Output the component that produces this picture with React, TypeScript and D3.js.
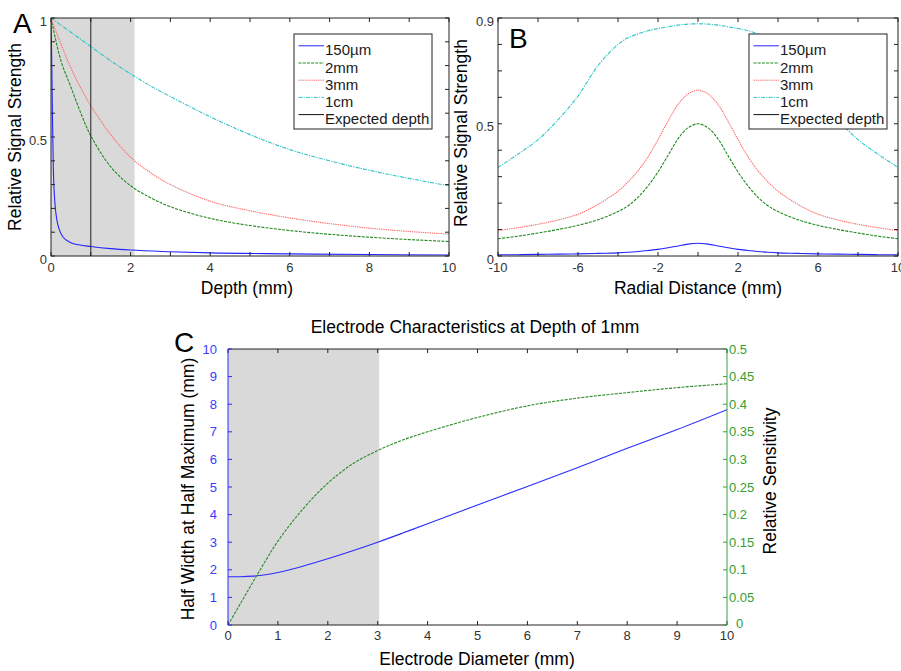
import * as d3 from "d3";

const FONT = "'Liberation Sans', Arial, Helvetica, sans-serif";

// ---- panel A: relative signal vs depth ----
const depthFine = [0, 0.01, 0.02, 0.035, 0.06, 0.1, 0.15, 0.2, 0.3, 0.5, 0.7, 1, 1.5, 2, 3, 4, 6, 8, 10];
const depth150um = [1, 0.9, 0.8, 0.6, 0.36, 0.22, 0.15, 0.115, 0.08, 0.056, 0.047, 0.04, 0.031, 0.025, 0.018, 0.013, 0.009, 0.006, 0.004];
const depthSteps = [0, 0.25, 0.5, 0.75, 1, 1.5, 2, 2.5, 3, 4, 5, 6, 7, 8, 9, 10];
const depth2mm = [1, 0.82, 0.71, 0.6, 0.505, 0.375, 0.295, 0.245, 0.207, 0.158, 0.128, 0.107, 0.091, 0.079, 0.069, 0.061];
const depth3mm = [1, 0.89, 0.79, 0.705, 0.632, 0.51, 0.415, 0.35, 0.3, 0.23, 0.19, 0.16, 0.136, 0.117, 0.103, 0.092];
const depth1cm = [1, 0.97, 0.94, 0.91, 0.88, 0.82, 0.765, 0.715, 0.67, 0.585, 0.51, 0.447, 0.4, 0.36, 0.326, 0.295];
const expectedDepth = 1;
const shadeDepth = 2.1;
const depthLabels = [0, 2, 4, 6, 8, 10];
const signalLabelsA = [0, 0.5, 1];

// ---- panel B: relative signal vs radial distance ----
const radial = [-10, -9, -8, -7, -6, -5, -4, -3.5, -3, -2.5, -2, -1.5, -1, -0.5, 0, 0.5, 1, 1.5, 2, 2.5, 3, 3.5, 4, 5, 6, 7, 8, 9, 10];
const radial150um = [0.005, 0.005, 0.006, 0.007, 0.008, 0.01, 0.012, 0.014, 0.017, 0.021, 0.025, 0.031, 0.038, 0.045, 0.048, 0.045, 0.038, 0.031, 0.025, 0.021, 0.017, 0.014, 0.012, 0.01, 0.008, 0.007, 0.006, 0.005, 0.005];
const radial2mm = [0.065, 0.075, 0.087, 0.1, 0.116, 0.137, 0.168, 0.19, 0.222, 0.265, 0.318, 0.38, 0.443, 0.485, 0.5, 0.485, 0.443, 0.38, 0.318, 0.265, 0.222, 0.19, 0.168, 0.137, 0.116, 0.1, 0.087, 0.075, 0.065];
const radial3mm = [0.096, 0.107, 0.12, 0.136, 0.158, 0.195, 0.245, 0.28, 0.322, 0.375, 0.44, 0.51, 0.573, 0.613, 0.627, 0.613, 0.573, 0.51, 0.44, 0.375, 0.322, 0.28, 0.245, 0.195, 0.158, 0.136, 0.12, 0.107, 0.096];
const radial1cm = [0.335, 0.385, 0.44, 0.515, 0.605, 0.72, 0.8, 0.825, 0.84, 0.852, 0.86, 0.867, 0.873, 0.877, 0.878, 0.877, 0.873, 0.867, 0.86, 0.852, 0.84, 0.825, 0.8, 0.72, 0.605, 0.515, 0.44, 0.385, 0.335];
const radialLabels = [-10, -6, -2, 2, 6, 10];
const signalLabelsB = [0, 0.5, 0.9];

// ---- panel C: electrode characteristics ----
const diameter = [0, 0.25, 0.5, 0.75, 1, 1.5, 2, 2.5, 3, 3.5, 4, 5, 6, 7, 8, 9, 10];
const hwhm = [1.75, 1.75, 1.77, 1.82, 1.9, 2.13, 2.4, 2.69, 3.0, 3.33, 3.67, 4.35, 5.02, 5.7, 6.4, 7.08, 7.8];
const sensitivity = [0, 0.039, 0.078, 0.116, 0.152, 0.21, 0.257, 0.292, 0.316, 0.335, 0.35, 0.376, 0.397, 0.411, 0.421, 0.43, 0.437];
const shadeDiameter = 3.03;

const legendNames = ["150\u00b5m", "2mm", "3mm", "1cm", "Expected depth"];
const styles = [
  { color: "#2424ff", dash: "" },
  { color: "#1f8a1f", dash: "3,1.2" },
  { color: "#ff7070", dash: "1.4,0.8" },
  { color: "#2ec4c4", dash: "4,1.2,1.2,1.2" },
  { color: "#111", dash: "" },
];

const TICK = 4;
const LABEL = 17.5;

function curve(xs: number[], ys: number[], sx: any, sy: any, smooth = false) {
  return d3
    .line<number>()
    .x((_, i) => sx(xs[i]))
    .y((v) => sy(v))
    .curve(smooth ? d3.curveCatmullRom.alpha(0.5) : d3.curveMonotoneX)(ys) as string;
}

function Legend({ x, y }: { x: number; y: number }) {
  return (
    <g>
      <rect x={x} y={y} width={138} height={95} fill="#fff" stroke="#222" strokeWidth={1} />
      {legendNames.map((n, i) => {
        const by = y + 21.3 + i * 17.2;
        return (
          <g key={n}>
            <line x1={x + 4.5} x2={x + 30} y1={by - 9.5} y2={by - 9.5} stroke={styles[i].color} strokeDasharray={styles[i].dash} strokeWidth={1} />
            <text x={x + 31} y={by} fontSize={15} fill="#1a1a1a">{n}</text>
          </g>
        );
      })}
    </g>
  );
}

function Box({ sx, sy, xt, yt, color = "#222" }: any) {
  const [x0, x1] = sx.range();
  const [y0, y1] = sy.range();
  return (
    <g stroke={color} strokeWidth={1} fill="none">
      <rect x={x0} y={y1} width={x1 - x0} height={y0 - y1} />
      {xt.map((t: number) => (
        <g key={"x" + t}>
          <line x1={sx(t)} x2={sx(t)} y1={y0} y2={y0 - TICK} />
          <line x1={sx(t)} x2={sx(t)} y1={y1} y2={y1 + TICK} />
        </g>
      ))}
      {yt.map((t: number) => (
        <g key={"y" + t}>
          <line x1={x0} x2={x0 + TICK} y1={sy(t)} y2={sy(t)} />
          <line x1={x1} x2={x1 - TICK} y1={sy(t)} y2={sy(t)} />
        </g>
      ))}
    </g>
  );
}

export default function App() {
  // panel A
  const ax = d3.scaleLinear().domain([0, 10]).range([51, 449]);
  const ay = d3.scaleLinear().domain([0, 1]).range([256, 18]);
  // panel B
  const bx = d3.scaleLinear().domain([-10, 10]).range([498, 898]);
  const by = d3.scaleLinear().domain([0, 0.9]).range([256, 18]);
  // panel C
  const cx = d3.scaleLinear().domain([0, 10]).range([228, 727]);
  const cyL = d3.scaleLinear().domain([0, 10]).range([625, 349]);
  const cyR = d3.scaleLinear().domain([0, 0.5]).range([625, 349]);

  const aSeries = [
    { xs: depthFine, ys: depth150um },
    { xs: depthSteps, ys: depth2mm },
    { xs: depthSteps, ys: depth3mm },
    { xs: depthSteps, ys: depth1cm },
  ];
  const bSeries = [radial150um, radial2mm, radial3mm, radial1cm];

  const blueC = "#2b2bff";
  const greenC = "#3a9e3a";

  return (
    <svg width={901} height={671} style={{ position: "absolute", left: 0, top: 0, background: "#fff" }} fontFamily={FONT}>
      <defs>
        <clipPath id="clipA"><rect x={51} y={18} width={398} height={238} /></clipPath>
        <clipPath id="clipB"><rect x={498} y={18} width={400} height={238} /></clipPath>
        <clipPath id="clipC"><rect x={228} y={349} width={499} height={276} /></clipPath>
      </defs>

      {/* ---------- Panel A ---------- */}
      <rect x={ax(0)} y={ay(1)} width={ax(shadeDepth) - ax(0)} height={ay(0) - ay(1)} fill="#d9d9d9" />
      <g clipPath="url(#clipA)" fill="none">
        {aSeries.map((s, i) => (
          <path key={i} d={curve(s.xs, s.ys, ax, ay, i > 0)} stroke={styles[i].color} strokeDasharray={styles[i].dash} strokeWidth={1.1} />
        ))}
      </g>
      <line x1={ax(expectedDepth)} x2={ax(expectedDepth)} y1={ay(0)} y2={ay(1)} stroke="#222" strokeWidth={1} />
      <Box sx={ax} sy={ay} xt={d3.range(0, 11, 1)} yt={d3.range(0, 1.01, 0.1)} />
      {depthLabels.map((t) => (
        <text key={t} x={ax(t)} y={272} fontSize={13} textAnchor="middle" fill="#333">{t}</text>
      ))}
      {signalLabelsA.map((t) => (
        <text key={t} x={47} y={ay(t) + 7.5} fontSize={13} textAnchor="end" fill="#333">{t}</text>
      ))}
      <text x={247} y={294} fontSize={LABEL} textAnchor="middle" fill="#000">Depth (mm)</text>
      <text transform="translate(21,137) rotate(-90)" fontSize={LABEL} textAnchor="middle" fill="#000">Relative Signal Strength</text>
      <Legend x={294} y={34} />
      <text x={13} y={33} fontSize={28} fill="#000">A</text>

      {/* ---------- Panel B ---------- */}
      <g clipPath="url(#clipB)" fill="none">
        {bSeries.map((ys, i) => (
          <path key={i} d={curve(radial, ys, bx, by, true)} stroke={styles[i].color} strokeDasharray={styles[i].dash} strokeWidth={1.1} />
        ))}
      </g>
      <Box sx={bx} sy={by} xt={d3.range(-10, 11, 2)} yt={d3.range(0, 0.91, 0.1)} />
      {radialLabels.map((t) => (
        <text key={t} x={bx(t)} y={272} fontSize={13} textAnchor="middle" fill="#333">{t}</text>
      ))}
      {signalLabelsB.map((t) => (
        <text key={t} x={494} y={by(t) + 7.5} fontSize={13} textAnchor="end" fill="#333">{t}</text>
      ))}
      <text x={698} y={294} fontSize={LABEL} textAnchor="middle" fill="#000">Radial Distance (mm)</text>
      <text transform="translate(467,133) rotate(-90)" fontSize={LABEL} textAnchor="middle" fill="#000">Relative Signal Strength</text>
      <Legend x={749} y={34} />
      <text x={509} y={48} fontSize={28} fill="#000">B</text>

      {/* ---------- Panel C ---------- */}
      <rect x={cx(0)} y={cyL(10)} width={cx(shadeDiameter) - cx(0)} height={cyL(0) - cyL(10)} fill="#d9d9d9" />
      <g clipPath="url(#clipC)" fill="none">
        <path d={curve(diameter, hwhm, cx, cyL, true)} stroke={blueC} strokeWidth={1.1} />
        <path d={curve(diameter, sensitivity, cx, cyR, true)} stroke="#2a8a2a" strokeDasharray="3,1.2" strokeWidth={1.1} />
      </g>
      <g stroke="#222" strokeWidth={1}>
        <line x1={cx(0)} x2={cx(10)} y1={cyL(0)} y2={cyL(0)} />
        <line x1={cx(0)} x2={cx(10)} y1={cyL(10)} y2={cyL(10)} />
        {d3.range(0, 11, 1).map((t) => (
          <g key={t}>
            <line x1={cx(t)} x2={cx(t)} y1={cyL(0)} y2={cyL(0) - TICK} />
            <line x1={cx(t)} x2={cx(t)} y1={cyL(10)} y2={cyL(10) + TICK} />
          </g>
        ))}
      </g>
      <g stroke={blueC} strokeWidth={1}>
        <line x1={cx(0)} x2={cx(0)} y1={cyL(0)} y2={cyL(10)} />
        {d3.range(0, 11, 1).map((t) => (
          <line key={t} x1={cx(0)} x2={cx(0) + TICK} y1={cyL(t)} y2={cyL(t)} />
        ))}
      </g>
      <g stroke={greenC} strokeWidth={1}>
        <line x1={cx(10)} x2={cx(10)} y1={cyR(0)} y2={cyR(0.5)} />
        {d3.range(0, 0.501, 0.05).map((t) => (
          <line key={t} x1={cx(10)} x2={cx(10) - TICK} y1={cyR(t)} y2={cyR(t)} />
        ))}
      </g>
      {d3.range(0, 11, 1).map((t) => (
        <text key={t} x={cx(t)} y={640} fontSize={13} textAnchor="middle" fill="#333">{t}</text>
      ))}
      {d3.range(0, 11, 1).map((t) => (
        <text key={t} x={217} y={cyL(t) + 4.5} fontSize={13} textAnchor="end" fill="#3b3bff">{t}</text>
      ))}
      {d3.range(0, 0.501, 0.05).map((t, i) => (
        <text key={t} x={i === 0 ? 736 : 729} y={i === 0 ? 628 : cyR(t) + 4.5} fontSize={13} textAnchor="start" fill="#33a033">{+t.toFixed(2)}</text>
      ))}
      <text x={475} y={333} fontSize={LABEL} textAnchor="middle" fill="#000">Electrode Characteristics at Depth of 1mm</text>
      <text x={477} y={665} fontSize={LABEL} textAnchor="middle" fill="#000">Electrode Diameter (mm)</text>
      <text transform="translate(194,489) rotate(-90)" fontSize={LABEL} textAnchor="middle" fill="#000">Half Width at Half Maximum (mm)</text>
      <text transform="translate(776,481) rotate(-90)" fontSize={LABEL} textAnchor="middle" fill="#000">Relative Sensitivity</text>
      <text x={174} y={352} fontSize={28} fill="#000">C</text>
    </svg>
  );
}
